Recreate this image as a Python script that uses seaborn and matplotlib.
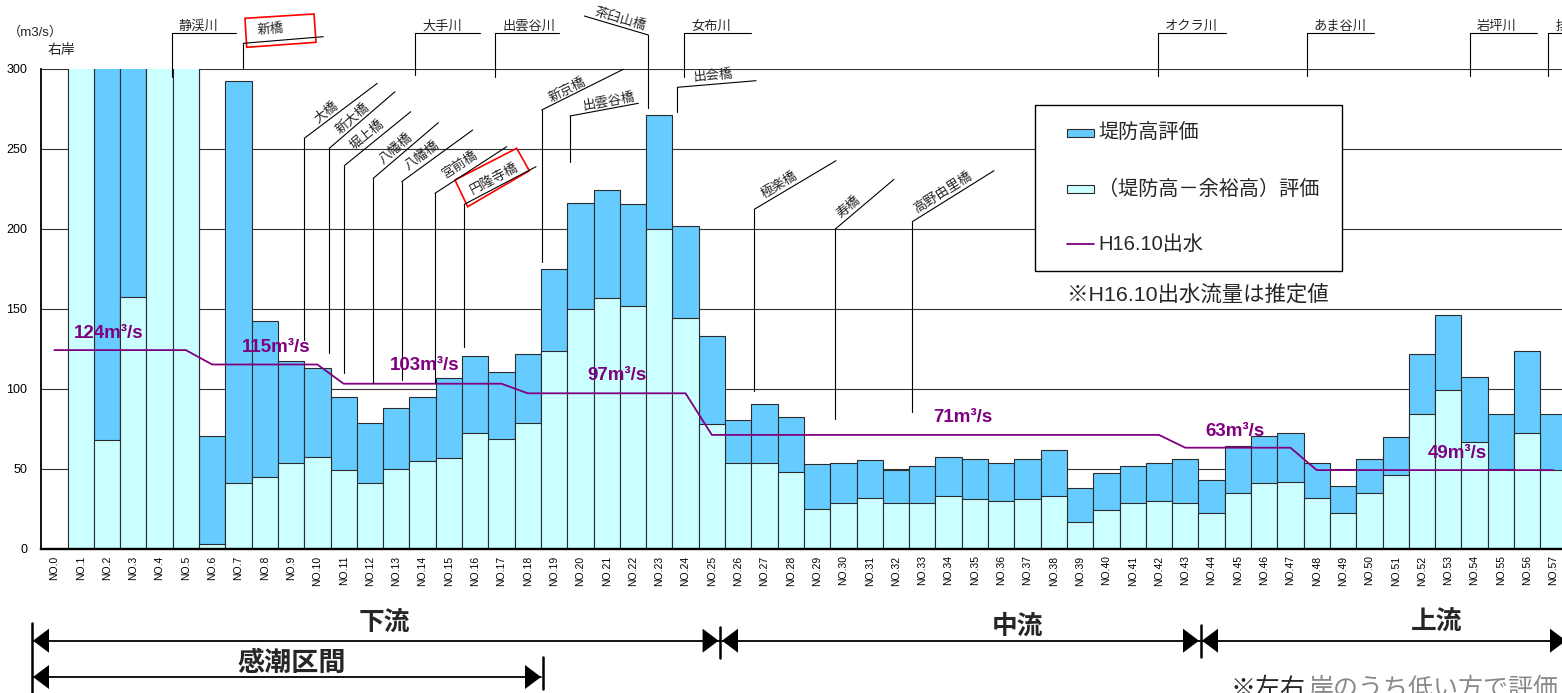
import numpy as np
import pandas as pd
import matplotlib
matplotlib.use("Agg")
import matplotlib.pyplot as plt
import seaborn as sns
from matplotlib.patches import Polygon, Rectangle

# ---------------- data ----------------
stations = [f"NO.{i}" for i in range(58)]

# 堤防高評価 (m3/s)  -- values above 300 run off the chart
dike_eval = [np.nan, 330, 330, 330, 330, 330, 70.5, 292, 142.4, 117.4,
             112.6, 94.5, 78.4, 87.8, 94.4, 106.8, 120.5, 110.5, 121.4, 174.5,
             216.1, 223.9, 215.5, 270.7, 201.4, 133.0, 80.5, 90.1, 82.0, 53.0,
             53.6, 55.3, 48.8, 51.6, 57.0, 55.7, 53.6, 55.7, 61.4, 37.6,
             47.0, 51.6, 53.6, 55.7, 42.6, 64.0, 70.5, 72.0, 53.6, 38.9,
             55.7, 69.9, 121.6, 145.7, 107.4, 83.9, 123.6, 83.9]

# (堤防高－余裕高)評価 (m3/s)
freeboard_eval = [np.nan, 330, 68.0, 157.0, 330, 330, 2.6, 41.0, 44.9, 53.4,
                  57.0, 48.9, 40.7, 49.5, 54.9, 56.8, 72.4, 68.2, 78.6, 123.4,
                  149.7, 156.4, 151.8, 199.5, 144.3, 77.8, 53.4, 53.4, 47.6, 24.5,
                  28.6, 31.3, 28.6, 28.6, 32.8, 30.7, 29.5, 30.7, 32.8, 16.6,
                  24.0, 28.6, 29.5, 28.6, 22.0, 34.9, 40.9, 41.6, 31.3, 22.0,
                  34.9, 45.7, 83.9, 98.9, 66.6, 49.7, 72.4, 48.9]

# H16.10出水 (m3/s)
flood_h16 = [124] * 6 + [115] * 5 + [103] * 7 + [97] * 7 + [71] * 18 + [63] * 5 + [49] * 10

flow_labels = ["124m³/s", "115m³/s", "103m³/s", "97m³/s", "71m³/s", "63m³/s", "49m³/s"]
y_ticks = [0, 50, 100, 150, 200, 250, 300]

legend_labels = ["堤防高評価", "（堤防高－余裕高）評価", "H16.10出水"]

# ---------------- style ----------------
sns.set_style("white")
plt.rcParams["font.family"] = ["Liberation Sans", "Noto Sans CJK JP", "DejaVu Sans"]

C_DARK = "#66CCFF"
C_LIGHT = "#CCFFFF"
C_EDGE = "#2b2b2b"
C_FLOW = "#800080"

W, H = 1562, 693
fig = plt.figure(figsize=(W / 100, H / 100), dpi=100)
ax = fig.add_axes([41.2 / W, (H - 548.5) / H, 58 * 26.3 / W, 480 / H])

df = pd.DataFrame({"station": stations, "dike": dike_eval,
                   "free": freeboard_eval, "flow": flood_h16})

sns.barplot(data=df, x="station", y="dike", order=stations, color=C_DARK,
            saturation=1, edgecolor=C_EDGE, linewidth=0.8, width=1.0,
            errorbar=None, ax=ax, zorder=2)
sns.barplot(data=df, x="station", y="free", order=stations, color=C_LIGHT,
            saturation=1, edgecolor=C_EDGE, linewidth=0.8, width=1.0,
            errorbar=None, ax=ax, zorder=3)
sns.lineplot(x=np.arange(len(stations)), y=df["flow"], color=C_FLOW,
             linewidth=1.3, ax=ax, zorder=4, sort=False, estimator=None)

ax.set_xlim(-0.5, len(stations) - 0.5)
ax.set_ylim(0, 300)
ax.set_yticks(y_ticks)
ax.set_xticks(range(len(stations)))
ax.set_xticklabels(stations)
ax.set_xlabel("")
ax.set_ylabel("")
ax.yaxis.grid(True, color="#333333", linewidth=0.8)
ax.xaxis.grid(False)
ax.set_axisbelow(True)
for s in ["top", "right"]:
    ax.spines[s].set_visible(False)
ax.spines["left"].set_color("black")
ax.spines["left"].set_linewidth(1.3)
ax.spines["bottom"].set_color("black")
ax.spines["bottom"].set_linewidth(1.7)
ax.spines["bottom"].set_zorder(6)
ax.tick_params(axis="y", length=0, pad=10, labelsize=9, colors="black")
ax.tick_params(axis="x", length=0, pad=5, labelsize=7.5, labelrotation=90, colors="black")

# ---------------- overlay for annotations (pixel coordinates) ----------------
ov = fig.add_axes([0, 0, 1, 1], zorder=20)
ov.set_xlim(0, W)
ov.set_ylim(H, 0)
ov.axis("off")
ov.patch.set_alpha(0)

# legend box
ov.add_patch(Rectangle((1035, 105), 307, 166, facecolor="white", edgecolor="black", lw=1.0))
ov.add_patch(Rectangle((1066.7, 129.3), 27.3, 8, facecolor=C_DARK, edgecolor=C_EDGE, lw=0.8))
ov.add_patch(Rectangle((1066.7, 185.3), 27.3, 8, facecolor=C_LIGHT, edgecolor=C_EDGE, lw=0.8))
ov.plot([1066.7, 1094], [244, 244], color=C_FLOW, lw=1.3)
for lab, yy in zip(legend_labels, [133.3, 189.3, 244]):
    ov.text(1098.3, yy, lab, fontsize=14.5, ha="left", va="center")

LW = 0.8
FS = 9.5

def tri(xtip, y, direction, length=16, half=12):
    base = xtip - direction * length
    ov.add_patch(Polygon([[xtip, y], [base, y - half], [base, y + half]],
                         closed=True, color="black", lw=0))

# horizontal leader labels (rivers)
for name, xv, yb, xe in [("静渓川", 171.7, 77, 236), ("大手川", 415, 75, 480),
                         ("出雲谷川", 495, 77, 559), ("女布川", 684.3, 77, 750.7),
                         ("オクラ川", 1158.3, 76, 1226), ("あま谷川", 1306.7, 76, 1374),
                         ("岩坪川", 1470, 76, 1537.3), ("排", 1548.3, 76, 1600)]:
    ov.plot([xv, xv, xe], [yb, 33, 33], color="black", lw=LW)
    ov.text(xv + 7, 33, name, fontsize=FS, ha="left", va="bottom")

# slanted short labels
def slanted(name, p0, p1, yb, center, ang):
    ov.plot([p0[0], p0[0]], [yb, p0[1]], color="black", lw=LW)
    ov.plot([p0[0], p1[0]], [p0[1], p1[1]], color="black", lw=LW)
    ov.text(center[0], center[1], name, fontsize=FS, rotation=ang,
            rotation_mode="anchor", ha="center", va="center")

slanted("新橋", (243.3, 43.3), (323.3, 36.7), 68, (270, 30), 4.5)
slanted("茶臼山橋", (648.3, 35), (584.3, 16), 108.3, (620, 19), -16.5)
slanted("出会橋", (677.3, 87.3), (756, 80.7), 111.7, (713, 76), 4.8)
slanted("新京橋", (541.7, 110), (623.3, 69.3), 261.7, (567, 90), 26.5)
slanted("出雲谷橋", (570, 116), (638.3, 103.3), 161.7, (609, 101), 10.5)
slanted("大橋", (304.3, 138.3), (377.3, 83.3), 340, (326, 112), 37)
slanted("新大橋", (329.3, 148.3), (395, 91.7), 353, (353, 118), 40.7)
slanted("堀上橋", (344.3, 165.7), (410.7, 111.7), 372.7, (367, 135), 39)
slanted("八幡橋", (373.3, 178.3), (438.3, 122.7), 382.7, (396, 149), 40.5)
slanted("八幡橋", (401.7, 181.7), (472.7, 130), 380, (422, 156), 36)
slanted("宮前橋", (435, 193.3), (506.7, 146.7), 383, (460, 165), 33)
slanted("円隆寺橋", (464.3, 204.3), (536, 166.7), 346.7, (494, 179), 27.7)
slanted("極楽橋", (754.3, 209.3), (836, 160.7), 390.7, (780, 185), 30.7)
slanted("寿橋", (835, 229.3), (894, 179.3), 419.3, (849, 207), 40.3)
slanted("高野由里橋", (912.3, 221.7), (994, 170.7), 411.7, (943, 193), 32)

# red boxes
ov.add_patch(Polygon([[245, 18.3], [314, 14], [316, 42.3], [246.7, 47.3]], closed=True,
                     fill=False, edgecolor="red", lw=1.2))
ov.add_patch(Polygon([[455, 180], [516.7, 148.3], [529.3, 170.7], [467.7, 206.7]], closed=True,
                     fill=False, edgecolor="red", lw=1.2))

# axis unit texts
ov.text(35, 32, "（m3/s）", fontsize=9.5, ha="center", va="center")
ov.text(61, 50, "右岸", fontsize=10, ha="center", va="center")

# flood flow labels
for lab, (cx, cy) in zip(flow_labels, [(109, 334), (276, 347), (425, 365), (617, 375),
                                       (963, 417), (1235, 432), (1457, 454)]):
    ov.text(cx, cy, lab, fontsize=13.5, fontweight="bold", color=C_FLOW,
            ha="center", va="center")

# note
ov.text(1066.7, 294, "※H16.10出水流量は推定値", fontsize=15.4, ha="left", va="center")

# bottom reach arrows
ya, yb2 = 640.7, 677
ov.plot([31.5, 31.5], [623, 693], color="black", lw=1.8)
ov.plot([33, 720], [ya, ya], color="black", lw=1.3)
tri(33, ya, -1)
tri(718.6, ya, 1)
ov.plot([720.4, 720.4], [627, 658], color="black", lw=1.8)
tri(722, ya, -1)
ov.plot([722, 1200], [ya, ya], color="black", lw=1.3)
tri(1199, ya, 1)
ov.plot([1200.7, 1200.7], [625, 657], color="black", lw=1.8)
tri(1202, ya, -1)
ov.plot([1202, 1562], [ya, ya], color="black", lw=1.3)
tri(1566, ya, 1)

ov.plot([33, 541], [yb2, yb2], color="black", lw=1.3)
tri(33, yb2, -1)
tri(541, yb2, 1)
ov.plot([542.5, 542.5], [657, 689], color="black", lw=1.8)

ov.text(384, 624, "下流", fontsize=18.5, fontweight="bold", ha="center", va="center")
ov.text(1018, 627, "中流", fontsize=18.5, fontweight="bold", ha="center", va="center")
ov.text(1437, 623, "上流", fontsize=18.5, fontweight="bold", ha="center", va="center")
ov.text(292, 664, "感潮区間", fontsize=19.5, fontweight="bold", ha="center", va="center")

ov.text(1231, 677, "※左右", fontsize=18, ha="left", va="top")
ov.text(1308, 677, "岸のうち低い方で評価", fontsize=18, ha="left", va="top", color="#8a8a8a")

fig.savefig("out.png", dpi=100)
